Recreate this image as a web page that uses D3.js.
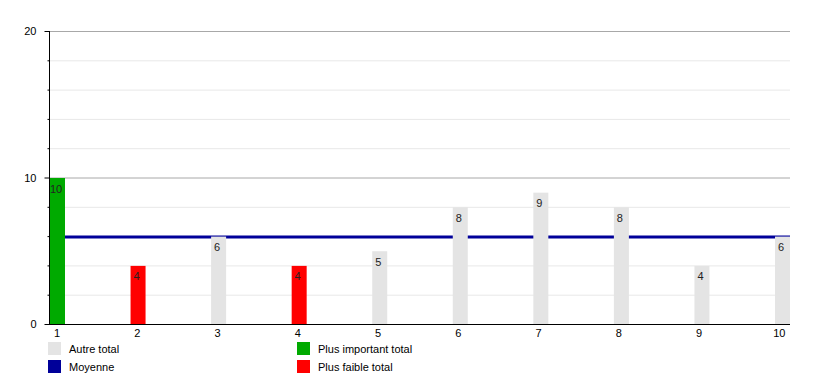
<!DOCTYPE html>
<html><head><meta charset="utf-8">
<script src="https://cdn.jsdelivr.net/npm/d3@7"></script>
<style>body{margin:0;background:#fff;}svg{display:block;font-family:"Liberation Sans",Arial,sans-serif;}</style>
</head><body>
<svg id="c" width="818" height="375"></svg>
<script>
const categories = ["1","2","3","4","5","6","7","8","9","10"];
const values = [10,4,6,4,5,8,9,8,4,6];
const barTypes = ["max","min","other","min","other","other","other","other","other","other"];
const meanValue = 6;
const yTicks = [0,10,20];
const legendLabels = ["Autre total","Moyenne","Plus important total","Plus faible total"];
const legendColors = ["#e4e4e4","#000099","#00aa00","#ff0000"];

(function(){
const svg = d3.select("#c");
const pl = 50, pr = 790, pt = 31, pb = 324, barW = 15;
const y = d3.scaleLinear().domain([0,20]).range([pb, pt]);
const x = d3.scalePoint().domain(categories).range([pl + barW/2, pr - barW/2]);
const color = d3.scaleOrdinal().domain(["other","max","min"]).range(["#e4e4e4","#00aa00","#ff0000"]);

// gridlines
const gridVals = d3.range(2, 21, 2);
svg.append("g").selectAll("line").data(gridVals).join("line")
  .attr("x1", pl).attr("x2", pr)
  .attr("y1", d => y(d) + 0.5).attr("y2", d => y(d) + 0.5)
  .attr("stroke", d => d % 10 === 0 ? "#a8a8a8" : "#e8e8e8").attr("stroke-width", 1);

// mean line
svg.append("line").attr("x1", pl).attr("x2", pr)
  .attr("y1", y(meanValue) + 1).attr("y2", y(meanValue) + 1)
  .attr("stroke", "#000099").attr("stroke-width", 3);

// bars
svg.append("g").selectAll("rect").data(values).join("rect")
  .attr("x", (d,i) => x(categories[i]) - barW/2)
  .attr("y", d => y(d) + 0.5)
  .attr("width", barW)
  .attr("height", d => pb - y(d) - 0.5)
  .attr("fill", (d,i) => color(barTypes[i]));

// value labels
svg.append("g").selectAll("text").data(values).join("text")
  .attr("x", (d,i) => x(categories[i]) - 1.5)
  .attr("y", d => y(d) + 15)
  .attr("text-anchor", "middle")
  .attr("font-size", 11)
  .attr("fill", "#222")
  .text(d => d);

// y axis
const yAxis = d3.axisLeft(y).tickValues(yTicks).tickSize(5).tickFormat(d3.format("d"));
const gy = svg.append("g").attr("transform", `translate(${pl - 0.5},0)`).call(yAxis);
gy.select(".domain").attr("stroke", "#000").attr("d", `M0,${pb}V${pt}`);
gy.selectAll("text").attr("font-size", 11).attr("fill", "#000").attr("x", -13).attr("font-family", "Liberation Sans, Arial, sans-serif");
gy.selectAll(".tick line").attr("stroke", "#000");
// minor ticks
const minor = d3.axisLeft(y).tickValues(d3.range(2, 20, 2).filter(d => d !== 10)).tickSize(2).tickFormat("");
const gm = svg.append("g").attr("transform", `translate(${pl - 0.5},0)`).call(minor);
gm.select(".domain").remove();
gm.selectAll(".tick line").attr("stroke", "#000");

// x axis
const xAxis = d3.axisBottom(x).tickSize(0).tickPadding(5);
const gx = svg.append("g").attr("transform", `translate(0,${pb + 0.5})`).call(xAxis);
gx.select(".domain").attr("stroke", "#000").attr("d", `M${pl - 1},0H${pr}`);
gx.selectAll("text").attr("font-size", 11).attr("fill", "#000")
  .attr("dx", (d,i) => -1 - i * 0.3).attr("font-family", "Liberation Sans, Arial, sans-serif");

// legend
const legPos = [[48,342],[48,360],[297,342],[297,360]];
const lg = svg.append("g").selectAll("g").data(legendLabels).join("g")
  .attr("transform", (d,i) => `translate(${legPos[i][0]},${legPos[i][1]})`);
lg.append("rect").attr("width", 13).attr("height", 13).attr("fill", (d,i) => legendColors[i]);
lg.append("text").attr("x", 21).attr("y", 11).attr("font-size", 11).attr("fill", "#000").text(d => d);
})();
</script>
</body></html>
